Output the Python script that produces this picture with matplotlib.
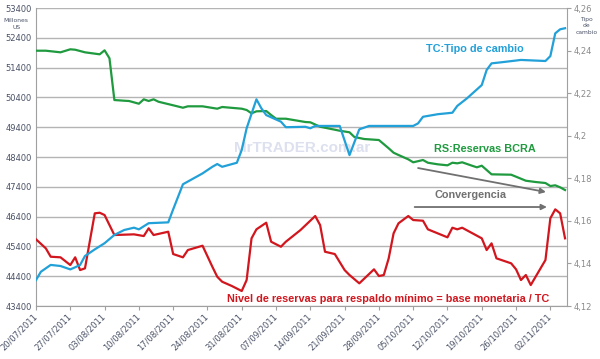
import numpy as np, pandas as pd, matplotlib; matplotlib.use('Agg')
import matplotlib.pyplot as plt
import matplotlib.dates as mdates
import matplotlib.transforms as mtrans
from matplotlib.ticker import FuncFormatter

START = pd.Timestamp('2011-07-20')
# RS: reservas BCRA (millones US$), days after 20/07/2011
rs_day = [0, 2, 5, 7, 8, 10, 13, 14, 15, 16, 18, 19, 21, 22, 23, 24, 25, 28, 30, 31, 34, 37, 38, 42, 43, 44, 45,
          47, 48, 49, 51, 55, 56, 58, 60, 62, 64, 65, 67, 70, 72, 73, 74, 76, 77, 79, 80, 82, 84, 85, 86, 87, 89,
          90, 91, 92, 93, 97, 98, 100, 102, 104, 105, 106, 107, 108]
rs_val = [51967, 51967, 51913, 52014, 52000, 51913, 51846, 51980, 51712, 50312, 50289, 50279, 50188, 50336, 50279,
          50336, 50255, 50135, 50054, 50101, 50101, 50021, 50078, 50021, 49977, 49866, 49933, 49943, 49809, 49685,
          49685, 49574, 49564, 49416, 49349, 49282, 49229, 49071, 49004, 48970, 48692, 48544, 48467, 48322, 48222,
          48299, 48208, 48155, 48121, 48208, 48188, 48222, 48108, 48054, 48108, 47963, 47819, 47806, 47739, 47604,
          47561, 47527, 47426, 47450, 47383, 47292]
# TC: tipo de cambio
tc_day = [0, 1, 3, 5, 7, 8, 9, 10, 12, 14, 16, 18, 20, 21, 23, 27, 28, 30, 34, 36, 37, 38, 41, 42, 43, 45, 46, 47,
          50, 51, 55, 56, 57, 62, 64, 66, 68, 77, 78, 79, 82, 85, 86, 88, 91, 92, 93, 95, 99, 104, 105, 106, 107, 108]
tc_val = [4.1322, 4.1361, 4.1393, 4.1388, 4.1372, 4.1382, 4.1393, 4.1435, 4.1466, 4.1495, 4.1534, 4.1557, 4.1568,
          4.1560, 4.1589, 4.1593, 4.1654, 4.1772, 4.1823, 4.1854, 4.1867, 4.1854, 4.1873, 4.1933, 4.2035, 4.2171,
          4.2129, 4.2097, 4.2066, 4.2040, 4.2042, 4.2035, 4.2046, 4.2046, 4.1909, 4.2030, 4.2046, 4.2046, 4.2058,
          4.2089, 4.2101, 4.2108, 4.2140, 4.2176, 4.2238, 4.2309, 4.2340, 4.2345, 4.2356, 4.2351, 4.2374, 4.2481,
          4.2500, 4.2505]
# nivel de reservas para respaldo minimo = base monetaria / TC
nv_day = [0, 2, 3, 5, 7, 8, 9, 10, 12, 13, 14, 15, 16, 20, 22, 23, 24, 27, 28, 30, 31, 34, 36, 37, 38, 40, 42, 43,
          44, 45, 47, 48, 50, 51, 54, 57, 58, 59, 61, 63, 64, 66, 69, 70, 71, 72, 73, 74, 76, 77, 79, 80, 84, 85,
          86, 87, 91, 92, 93, 94, 97, 98, 99, 100, 101, 104, 105, 106, 107, 108]
nv_val = [45638, 45336, 45054, 45034, 44775, 45034, 44607, 44664, 46510, 46530, 46453, 46117, 45782, 45805, 45748,
          46007, 45782, 45893, 45144, 45034, 45278, 45423, 44718, 44382, 44215, 44070, 43903, 44272, 45671, 45973,
          46195, 45557, 45389, 45557, 45950, 46420, 46117, 45221, 45144, 44607, 44440, 44161, 44631, 44406, 44440,
          45000, 45839, 46175, 46420, 46285, 46262, 45973, 45705, 46027, 45973, 46027, 45671, 45278, 45503, 45000,
          44832, 44631, 44272, 44440, 44104, 44943, 46342, 46644, 46510, 45671]
left_ticks = list(range(43400, 53401, 1000))
right_ticks = [4.12, 4.14, 4.16, 4.18, 4.20, 4.22, 4.24, 4.26]

def dates(d):
    return START + pd.to_timedelta(d, unit='D')

GREEN, BLUE, RED, GREY = '#1f9a3f', '#22a0d8', '#d2161e', '#707070'
fig = plt.figure(figsize=(6, 3.59), dpi=100)
ax1 = fig.add_axes([0.06, 0.1476, 0.885, 0.8301])
ax2 = ax1.twinx()

ax1.plot(dates(rs_day), rs_val, c=GREEN, lw=1.6, zorder=3)
ax1.plot(dates(nv_day), nv_val, c=RED, lw=1.6, zorder=3)
ax2.plot(dates(tc_day), tc_val, c=BLUE, lw=1.6, zorder=3)

ax1.set_xlim(START, START + pd.Timedelta(days=108.4))
ax1.set_ylim(43400, 53400); ax1.set_yticks(left_ticks)
ax2.set_ylim(4.12, 4.26); ax2.set_yticks(right_ticks)
ax2.yaxis.set_major_formatter(FuncFormatter(lambda v, p: f'{v:.2f}'.rstrip('0').rstrip('.').replace('.', ',')))
ax1.set_xticks(dates(list(range(0, 109, 7))))
ax1.xaxis.set_major_formatter(mdates.DateFormatter('%d/%m/%Y'))
ax1.grid(axis='y', color='#b4b4b4', lw=1.0, zorder=0)
ax1.set_axisbelow(True)

for ax in (ax1, ax2):
    ax.spines['top'].set_visible(False)
    for s in ('left', 'right', 'bottom'):
        ax.spines[s].set_color('#a0a0a0')
ax1.spines['right'].set_visible(False)
ax2.spines['left'].set_visible(False); ax2.spines['bottom'].set_visible(False)
ax1.tick_params(axis='y', length=0, labelsize=6, labelcolor='#4a5266', pad=3)
ax1.tick_params(axis='x', length=3, color='#a0a0a0', labelsize=6, labelcolor='#4a5266', pad=1)
ax2.tick_params(axis='y', length=3, color='#a0a0a0', labelsize=6, labelcolor='#8a8a8a', pad=2)
shift = mtrans.ScaledTranslation(3 / 100, 0, fig.dpi_scale_trans)
for lab in ax1.get_xticklabels():
    lab.set_rotation(45); lab.set_ha('right'); lab.set_va('top')
    lab.set_transform(lab.get_transform() + shift)

fig.text(0.027, 0.933, 'Millones\nUS', fontsize=4.3, color='#4a5266', ha='center', va='center', linespacing=1.3)
fig.text(0.977, 0.928, 'Tipo\nde\ncambio', fontsize=4.3, color='#4a5266', ha='center', va='center', linespacing=1.3)

ff = 'Liberation Sans'
ax1.text(dates(54.3), 48702, 'MrTRADER.com.ar', fontsize=11, fontweight='bold', color='#dde0ee',
         ha='center', va='center', family=ff, zorder=1)
ax1.text(dates(89.6), 52024, 'TC:Tipo de cambio', fontsize=7.8, fontweight='bold', color=BLUE,
         ha='center', va='center', family=ff)
ax1.text(dates(91.6), 48668, 'RS:Reservas BCRA', fontsize=7.8, fontweight='bold', color=GREEN,
         ha='center', va='center', family=ff)
ax1.text(dates(88.6), 47124, 'Convergencia', fontsize=7.8, fontweight='bold', color=GREY,
         ha='center', va='center', family=ff)
ax1.text(dates(71.9), 43634, 'Nivel de reservas para respaldo mínimo = base monetaria / TC', fontsize=7.8,
         fontweight='bold', color=RED, ha='center', va='center', family=ff)
ap = dict(arrowstyle='-|>', color=GREY, lw=1.3, mutation_scale=8, shrinkA=0, shrinkB=0)
ax1.annotate('', xy=(dates(104.1), 47225), xytext=(dates(78), 48030), arrowprops=ap)
ax1.annotate('', xy=(dates(104.3), 46722), xytext=(dates(77.3), 46722), arrowprops=ap)

fig.savefig('out.png', dpi=100)
